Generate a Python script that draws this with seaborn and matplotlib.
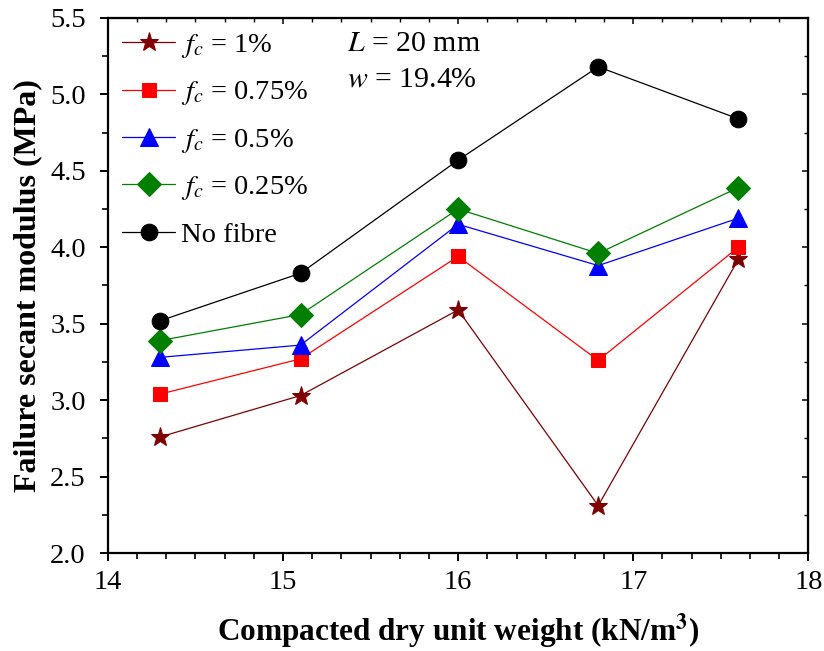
import matplotlib
matplotlib.use("Agg")
import matplotlib.pyplot as plt
from matplotlib.ticker import AutoMinorLocator, MultipleLocator, FormatStrFormatter
import seaborn as sns
import pandas as pd

sns.set_style("ticks")
plt.rcParams['font.family'] = ['Liberation Serif', 'DejaVu Serif']
plt.rcParams['mathtext.fontset'] = 'stix'
for k in ['text.color', 'axes.labelcolor', 'xtick.color', 'ytick.color', 'axes.edgecolor']:
    plt.rcParams[k] = 'black'

x_vals = [14.3, 15.1, 16.0, 16.8, 17.6]
fc_1 = [2.76, 3.03, 3.59, 2.31, 3.92]
fc_075 = [3.04, 3.27, 3.94, 3.26, 4.00]
fc_05 = [3.28, 3.36, 4.15, 3.88, 4.19]
fc_025 = [3.39, 3.56, 4.25, 3.96, 4.39]
no_fibre = [3.52, 3.83, 4.57, 5.18, 4.84]

labels = [r"$f_c$ = 1%", r"$f_c$ = 0.75%", r"$f_c$ = 0.5%", r"$f_c$ = 0.25%", "No fibre"]
series = [fc_1, fc_075, fc_05, fc_025, no_fibre]
colors = ["#7f0000", "#ff0000", "#0000ff", "#007f00", "#000000"]
markers = ["*", "s", "^", "D", "o"]
msizes = [14, 10, 13, 12, 12]

fig = plt.figure(figsize=(8.24, 6.51), dpi=100)
ax = fig.add_axes([0.131, 0.1505, 0.85, 0.822])

for lab, ys, c, m, ms in zip(labels, series, colors, markers, msizes):
    df = pd.DataFrame({"x": x_vals, "y": ys})
    sns.lineplot(data=df, x="x", y="y", ax=ax, color=c, marker=m, markersize=ms,
                 markeredgecolor=c, linewidth=0.9, label=lab)

ax.set_xlim(14, 18)
ax.set_ylim(2.0, 5.5)
ax.xaxis.set_major_locator(MultipleLocator(1))
ax.xaxis.set_minor_locator(AutoMinorLocator(6))
ax.yaxis.set_major_locator(MultipleLocator(0.5))
ax.yaxis.set_minor_locator(AutoMinorLocator(2))
ax.yaxis.set_major_formatter(FormatStrFormatter('%.1f'))

ax.tick_params(axis='both', which='major', direction='out', length=6, width=1.4,
               labelsize=20.5, colors='black')
ax.tick_params(axis='x', which='major', pad=6)
ax.tick_params(axis='y', which='major', pad=10)
ax.tick_params(axis='both', which='minor', direction='out', length=4, width=1.2)
for s in ax.spines.values():
    s.set_linewidth(1.6)
    s.set_color('black')

ax2 = ax.secondary_xaxis('top')
ax2.xaxis.set_major_locator(MultipleLocator(1))
ax2.xaxis.set_minor_locator(AutoMinorLocator(6))
ax2.tick_params(which='major', direction='in', length=4, width=1.1)
ax2.tick_params(which='minor', direction='in', length=3, width=1.0)
ax2.set_xticklabels([])
ax3 = ax.secondary_yaxis('right')
ax3.yaxis.set_major_locator(MultipleLocator(0.5))
ax3.yaxis.set_minor_locator(AutoMinorLocator(2))
ax3.tick_params(which='major', direction='in', length=4, width=1.1)
ax3.tick_params(which='minor', direction='in', length=3, width=1.0)
ax3.set_yticklabels([])

ax.set_xlabel("Compacted dry unit weight (kN/m$^\\mathbf{3}$)", fontsize=22.5,
              fontweight='bold', labelpad=12)
ax.set_ylabel("Failure secant modulus (MPa)", fontsize=23, fontweight='bold', labelpad=6)

leg = ax.legend(loc='upper left', frameon=False, fontsize=20.5, handlelength=1.85,
                handletextpad=0.2, labelspacing=0.68, borderaxespad=0.05,
                borderpad=0.45, bbox_to_anchor=(0.0, 1.0))

ax.text(0.341, 0.951, r"$L$ = 20 mm", transform=ax.transAxes, fontsize=21.5, va='center')
ax.text(0.341, 0.884, r"$w$ = 19.4%", transform=ax.transAxes, fontsize=21.5, va='center')

fig.savefig("out.png", dpi=100)
